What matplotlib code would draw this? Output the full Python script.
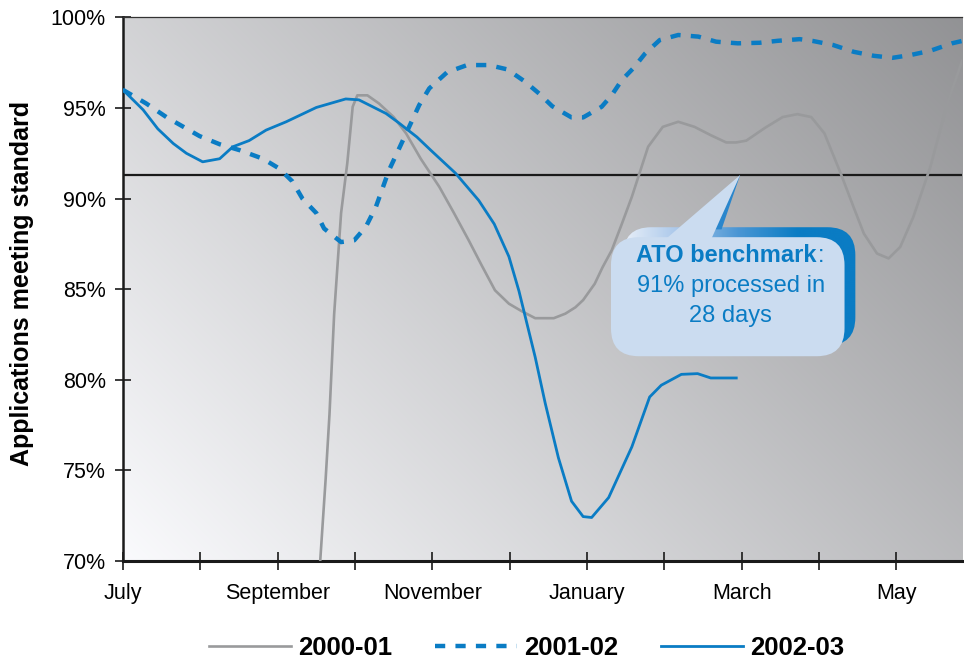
import numpy as np
import matplotlib
matplotlib.use("Agg")
import matplotlib.pyplot as plt
from matplotlib.patches import FancyBboxPatch, Polygon
from matplotlib.colors import LinearSegmentedColormap


#---DATA---
# x = months since start of July
MONTH_LABELS = ["July", "", "September", "", "November", "", "January", "",
                "March", "", "May"]

x_2000 = [2.55, 2.62, 2.67, 2.73, 2.82, 2.90, 2.97, 3.03, 3.16, 3.31, 3.50,
          3.66, 3.85, 4.09, 4.28, 4.47, 4.64, 4.81, 4.99, 5.15, 5.33, 5.57,
          5.72, 5.85, 5.95, 6.10, 6.20, 6.32, 6.45, 6.58, 6.79, 6.98, 7.18,
          7.39, 7.60, 7.80, 7.93, 8.06, 8.30, 8.53, 8.72, 8.90, 9.07, 9.28,
          9.45, 9.58, 9.75, 9.90, 10.05, 10.22, 10.44, 10.66, 10.85]
y_2000 = [70.0, 74.5, 78.1, 83.6, 89.2, 91.95, 95.07, 95.7, 95.7, 95.25, 94.5,
          93.6, 92.2, 90.65, 89.2, 87.7, 86.3, 84.94, 84.2, 83.8, 83.4, 83.4,
          83.65, 84.0, 84.4, 85.3, 86.2, 87.15, 88.6, 90.1, 92.86, 93.96, 94.24,
          93.96, 93.5, 93.1, 93.1, 93.2, 93.9, 94.5, 94.66, 94.5, 93.6, 91.4,
          89.5, 88.07, 86.97, 86.7, 87.33, 88.99, 91.75, 95.25, 97.6]

x_2001 = [0.0, 0.30, 0.56, 0.99, 1.25, 1.51, 1.81, 2.02, 2.19, 2.32, 2.50,
          2.60, 2.82, 2.99, 3.14, 3.27, 3.44, 3.57, 3.70, 3.83, 3.96, 4.19,
          4.45, 4.73, 4.97, 5.20, 5.38, 5.55, 5.80, 5.95, 6.19, 6.32, 6.45,
          6.60, 6.75, 6.94, 7.18, 7.44, 7.67, 7.95, 8.23, 8.47, 8.75, 8.92,
          9.18, 9.45, 9.71, 9.95, 10.18, 10.44, 10.72, 10.85]
y_2001 = [96.0, 95.25, 94.5, 93.45, 93.0, 92.67, 92.2, 91.66, 90.95, 90.0, 89.2,
          88.35, 87.6, 87.7, 88.44, 89.54, 91.57, 92.76, 93.96, 95.16, 96.08, 96.97,
          97.37, 97.37, 97.13, 96.45, 95.8, 95.1, 94.48, 94.48, 95.07, 95.71, 96.54,
          97.2, 98.0, 98.75, 99.03, 98.94, 98.66, 98.57, 98.6, 98.71, 98.8, 98.7,
          98.48, 98.1, 97.88, 97.77, 97.92, 98.16, 98.57, 98.7]

x_2002 = [0.0, 0.26, 0.45, 0.65, 0.82, 1.03, 1.25, 1.42, 1.63, 1.85, 2.11,
          2.50, 2.88, 3.05, 3.40, 3.56, 3.80, 3.98, 4.30, 4.60, 4.80, 4.99,
          5.12, 5.33, 5.46, 5.63, 5.80, 5.95, 6.06, 6.28, 6.58, 6.81, 6.96,
          7.22, 7.43, 7.60, 7.93]
y_2002 = [96.0, 94.9, 93.85, 93.04, 92.5, 92.03, 92.2, 92.86, 93.2, 93.78, 94.24,
          95.03, 95.5, 95.45, 94.7, 94.2, 93.4, 92.67, 91.4, 89.9, 88.6, 86.8,
          84.9, 81.25, 78.7, 75.7, 73.3, 72.45, 72.4, 73.5, 76.3, 79.05, 79.7,
          80.3, 80.34, 80.1, 80.1]

BENCHMARK = 91.3

BLUE = "#0a7cc4"
GRAY = "#999a9c"

plt.rcParams["font.family"] = ["Liberation Sans", "DejaVu Sans"]


#---FIGURE---
fig = plt.figure(figsize=(9.64, 6.62), dpi=100)
ax = fig.add_axes([0.1276, 0.1526, 0.8704, 0.8211])

x_max = 10.85
ax.set_xlim(0, x_max)
ax.set_ylim(70, 100)

# diagonal grey background, light bottom-left to dark top-right
u = np.linspace(0, 1, 300)
v = np.linspace(0, 1, 200)
U, V = np.meshgrid(u, v)
shade = 250 - 64 * U - 40 * V
bg = np.dstack([shade, shade + 0.5, shade + 3]) / 255.0
ax.imshow(np.clip(bg, 0, 1), extent=(0, x_max, 70, 100), origin="lower",
          aspect="auto", zorder=0, interpolation="bilinear")

ax.axhline(BENCHMARK, color="#1a1a1a", lw=1.6, zorder=2)

l1, = ax.plot(x_2000, y_2000, color=GRAY, lw=1.9, zorder=3, label="2000-01")
l2, = ax.plot(x_2001, y_2001, color=BLUE, lw=3.2, zorder=4, label="2001-02",
              dashes=(2.3, 2.3))
l3, = ax.plot(x_2002, y_2002, color=BLUE, lw=2.0, zorder=4, label="2002-03")

# axes styling
ax.spines["right"].set_visible(False)
ax.spines["top"].set_color("#333333")
ax.spines["top"].set_linewidth(0.9)
ax.spines["left"].set_linewidth(1.8)
ax.spines["bottom"].set_linewidth(2.2)
ax.spines["left"].set_color("#1a1a1a")
ax.spines["bottom"].set_color("#1a1a1a")

ax.set_xticks(range(len(MONTH_LABELS)))
ax.set_xticklabels(MONTH_LABELS, fontsize=15.5)
ax.set_yticks(range(70, 101, 5))
ax.set_yticklabels([f"{t}%" for t in range(70, 101, 5)], fontsize=15.5)
ax.tick_params(axis="x", direction="inout", length=13, width=1.2, pad=9,
               color="#1a1a1a")
ax.tick_params(axis="y", direction="inout", length=11, width=1.2, pad=7,
               color="#1a1a1a")

fig.text(22 / 964, 1 - 283 / 662, "Applications meeting standard",
         rotation=90, ha="center", va="center", fontsize=18, fontweight="bold")


#---CALLOUT---
px_x = 77.6   # pixels per month
px_y = 18.1   # pixels per percentage point
aspect = px_x / px_y

tip = (7.98, BENCHMARK)

shadow = FancyBboxPatch((6.47, 81.9), 3.0, 6.52,
                        boxstyle="round,pad=0,rounding_size=0.36",
                        mutation_aspect=aspect, facecolor="none",
                        edgecolor="none", zorder=5)
ax.add_patch(shadow)
cmap = LinearSegmentedColormap.from_list(
    "callout", ["#eef3fa", "#a9c7ea", "#4a96d4", BLUE, BLUE])
grad = np.linspace(0, 1, 256).reshape(1, -1)
sh = ax.imshow(grad, extent=(6.4, 9.5, 81.5, 89.0), cmap=cmap,
               aspect="auto", zorder=5, interpolation="bilinear")
sh.set_clip_path(shadow)

ax.add_patch(Polygon([tip, (7.40, 88.3), (7.74, 88.3)], closed=True,
                     facecolor="#2a86cc", edgecolor="none", zorder=5))

light = FancyBboxPatch((6.31, 81.3), 3.02, 6.57,
                       boxstyle="round,pad=0,rounding_size=0.36",
                       mutation_aspect=aspect, facecolor="#cbdcf0",
                       edgecolor="none", zorder=6)
ax.add_patch(light)
ax.add_patch(Polygon([tip, (7.0, 87.7), (7.6, 87.7)], closed=True,
                     facecolor="#cbdcf0", edgecolor="none", zorder=6))

cx = 7.86
t1 = ax.text(cx - 0.06, 86.87, "ATO benchmark", ha="center", va="center",
             fontsize=17, fontweight="bold", color=BLUE, zorder=7)
ax.annotate(":", xy=(1, 0), xycoords=t1, xytext=(1, 0),
            textcoords="offset points", ha="left", va="bottom",
            fontsize=17, color=BLUE, zorder=7)
ax.text(cx, 85.2, "91% processed in", ha="center", va="center",
        fontsize=17, color=BLUE, zorder=7)
ax.text(cx, 83.5, "28 days", ha="center", va="center",
        fontsize=17, color=BLUE, zorder=7)


#---LEGEND---
fig.legend(handles=[l1, l2, l3], loc="center", bbox_to_anchor=(0.546, 0.021),
           ncol=3, frameon=False, handlelength=3.2, handletextpad=0.27,
           columnspacing=1.67, prop={"weight": "bold", "size": 18.5})

fig.savefig("out.png", dpi=100)
